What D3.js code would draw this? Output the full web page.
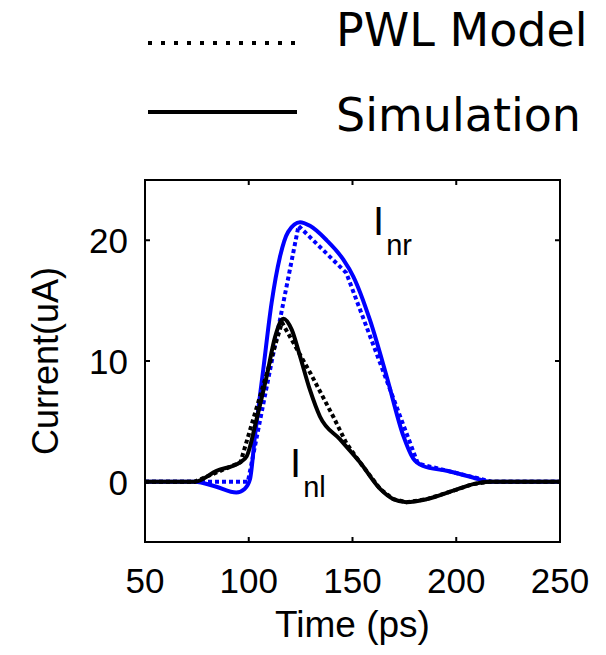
<!DOCTYPE html>
<html>
<head>
<meta charset="utf-8">
<script src="https://cdn.jsdelivr.net/npm/d3@7"></script>
<style>
  body { margin: 0; background: #fff; }
  svg { display: block; }
</style>
</head>
<body>
<div id="chart"></div>
<script>
// Data: [time (ps), current (uA)]
var inrSimulation = [[50,0],[74,0],[84,-0.4],[94,-0.9],[98,-0.6],[100.6,0.2],[103,3.8],[107,9.3],[111,14.8],
  [115,18.6],[119,20.7],[124.7,21.5],[129.5,21.2],[137.6,20],[145.6,18.4],[150.4,17],[158.4,13.4],
  [166.5,8.7],[174.5,3.8],[179.3,1.9],[184,1.3],[195.4,0.9],[208,0.35],[216,0],[250,0]];
var inrModel = [[50,0],[99.6,0],[124,21.2],[147,17.3],[181.5,1.5],[217,0],[250,0]];
var inlSimulation = [[50,0],[74,0],[84.5,0.9],[95.8,1.6],[99,2.1],[103.8,5.2],[108.6,8.7],[112.7,12],
  [116.7,13.5],[120.7,12.6],[124.7,10.4],[129.5,7.6],[134.3,5.4],[144,3.5],[153.6,1.6],[163.3,-0.6],
  [169.7,-1.45],[176,-1.7],[185.8,-1.45],[198.6,-0.75],[208.2,-0.2],[216,0],[250,0]];
var inlModel = [[50,0],[74,0],[96,1.6],[116,13.2],[130,8.9],[141,5.3],[147,3.2],[153.6,1.6],[163.3,-0.6],
  [169.7,-1.45],[176,-1.7],[185.8,-1.45],[198.6,-0.75],[208.2,-0.2],[216,0],[250,0]];

var xTicks = [50, 100, 150, 200, 250];
var yTicks = [0, 10, 20];
var legendLabels = ["PWL Model", "Simulation"];

var width = 606, height = 655;
// plot box (note: "top" is reserved by window, so use box*)
var boxL = 145, boxR = 560, boxT = 180, boxB = 542;

var svg = d3.select("#chart").append("svg")
            .attr("width", width)
            .attr("height", height);

var x = d3.scaleLinear().domain([50, 250]).range([boxL, boxR]);
var y = d3.scaleLinear().domain([-5, 25]).range([boxB, boxT]);

// ---------------- legend ----------------
var legend = svg.append("g").attr("font-family", "DejaVu Sans, Verdana, sans-serif")
                .attr("font-size", "46px");
legend.append("line")
      .attr("x1", 148).attr("x2", 296).attr("y1", 43).attr("y2", 43)
      .attr("stroke", "#000").attr("stroke-width", 4).attr("stroke-dasharray", "4,9");
legend.append("line")
      .attr("x1", 148).attr("x2", 297).attr("y1", 112).attr("y2", 112)
      .attr("stroke", "#000").attr("stroke-width", 4);
legend.selectAll("text").data(legendLabels).enter().append("text")
      .attr("x", 336)
      .attr("y", function(d, i) { return 46 + i * 85; })
      .text(function(d) { return d; });

// ---------------- curves ----------------
svg.append("defs").append("clipPath").attr("id", "clip")
   .append("rect").attr("x", boxL).attr("y", boxT).attr("width", boxR - boxL).attr("height", boxB - boxT);
var plot = svg.append("g").attr("clip-path", "url(#clip)");

var smooth = d3.line().x(function(d) { return x(d[0]); }).y(function(d) { return y(d[1]); })
               .curve(d3.curveMonotoneX);
var straight = d3.line().x(function(d) { return x(d[0]); }).y(function(d) { return y(d[1]); });

plot.append("path").attr("d", smooth(inrSimulation))
    .attr("fill", "none").attr("stroke", "#0000ff").attr("stroke-width", 4).attr("stroke-linejoin", "round");
plot.append("path").attr("d", straight(inrModel))
    .attr("fill", "none").attr("stroke", "#0000ff").attr("stroke-width", 4).attr("stroke-dasharray", "4,3");
plot.append("path").attr("d", smooth(inlSimulation))
    .attr("fill", "none").attr("stroke", "#000").attr("stroke-width", 4).attr("stroke-linejoin", "round");
plot.append("path").attr("d", straight(inlModel))
    .attr("fill", "none").attr("stroke", "#000").attr("stroke-width", 4).attr("stroke-dasharray", "4,3");

// ---------------- axes box ----------------
var tickFont = "Liberation Sans, Arial, Helvetica, sans-serif";
var axisG = svg.append("g");
axisG.append("rect")
     .attr("x", boxL).attr("y", boxT).attr("width", boxR - boxL).attr("height", boxB - boxT)
     .attr("fill", "none").attr("stroke", "#000").attr("stroke-width", 2);

// ticks inward on all four sides
axisG.selectAll(".xt").data(xTicks).enter().append("path")
     .attr("d", function(d) {
       return "M" + x(d) + "," + boxB + "v-5M" + x(d) + "," + boxT + "v5";
     })
     .attr("stroke", "#000").attr("stroke-width", 2);
axisG.selectAll(".yt").data(yTicks).enter().append("path")
     .attr("d", function(d) {
       return "M" + boxL + "," + y(d) + "h5M" + boxR + "," + y(d) + "h-5";
     })
     .attr("stroke", "#000").attr("stroke-width", 2);

axisG.selectAll(".xl").data(xTicks).enter().append("text")
     .attr("x", function(d) { return x(d); })
     .attr("y", 593)
     .attr("text-anchor", "middle")
     .attr("font-family", tickFont).attr("font-size", "35px")
     .text(function(d) { return d; });
axisG.selectAll(".yl").data(yTicks).enter().append("text")
     .attr("x", 128)
     .attr("y", function(d) { return y(d) + 13; })
     .attr("text-anchor", "end")
     .attr("font-family", tickFont).attr("font-size", "35px")
     .text(function(d) { return d; });

svg.append("text")
   .attr("x", (boxL + boxR) / 2).attr("y", 637)
   .attr("text-anchor", "middle")
   .attr("font-family", tickFont).attr("font-size", "37px")
   .text("Time (ps)");
svg.append("text")
   .attr("transform", "translate(58," + (boxT + boxB) / 2 + ") rotate(-90)")
   .attr("text-anchor", "middle")
   .attr("font-family", tickFont).attr("font-size", "36px")
   .text("Current(uA)");

// ---------------- curve labels ----------------
function curveLabel(xPos, yPos, sub) {
  var t = svg.append("text")
             .attr("x", xPos).attr("y", yPos)
             .attr("font-family", tickFont).attr("font-size", "40px");
  t.append("tspan").text("I");
  t.append("tspan").attr("font-size", "29px").attr("dy", 20).attr("dx", 2).text(sub);
}
curveLabel(373, 235, "nr");
curveLabel(290, 477, "nl");
</script>
</body>
</html>
